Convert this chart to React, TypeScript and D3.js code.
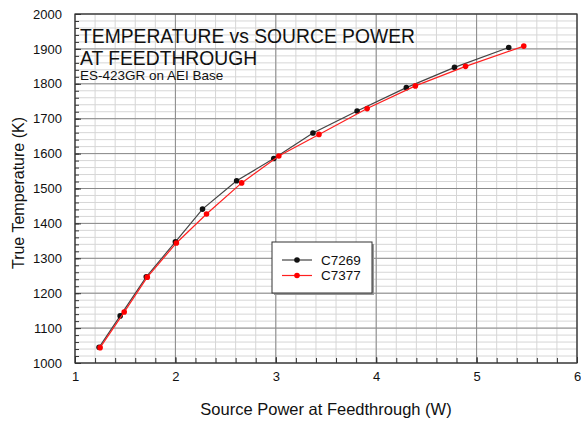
import { useEffect, useRef } from "react";
import * as d3 from "d3";

// C7269 and C7377 source power (W) vs true temperature (K)
const c7269Power = [1.24, 1.45, 1.71, 2.0, 2.27, 2.61, 2.98, 3.37, 3.81, 4.3, 4.78, 5.32];
const c7269Temp = [1045, 1135, 1247, 1347, 1441, 1522, 1586, 1659, 1722, 1789, 1847, 1904];
const c7377Power = [1.25, 1.49, 1.72, 2.01, 2.31, 2.66, 3.03, 3.43, 3.91, 4.39, 4.89, 5.47];
const c7377Temp = [1044, 1146, 1246, 1344, 1427, 1516, 1593, 1655, 1729, 1794, 1850, 1908];

const xTicks = [1, 2, 3, 4, 5, 6];
const yTicks = [1000, 1100, 1200, 1300, 1400, 1500, 1600, 1700, 1800, 1900, 2000];

const seriesNames = ["C7269", "C7377"];
const seriesColors = ["#111111", "#ff0000"];
const lineColors = ["#444444", "#ff2020"];

const FONT = "'Liberation Sans', Arial, sans-serif";

export default function App() {
  const svgRef = useRef<SVGSVGElement | null>(null);

  useEffect(() => {
    const svgEl = svgRef.current;
    if (!svgEl) return;

    const width = 581;
    const height = 421;
    const margin = { top: 14, right: 4, bottom: 58, left: 75 };
    const innerW = width - margin.left - margin.right;
    const innerH = height - margin.top - margin.bottom;

    const svg = d3.select(svgEl);
    svg.selectAll("*").remove();
    svg.attr("width", width).attr("height", height);

    svg.append("rect").attr("width", width).attr("height", height).attr("fill", "#fff");

    const x = d3.scaleLinear().domain([1, 6]).range([0, innerW]);
    const y = d3.scaleLinear().domain([1000, 2000]).range([innerH, 0]);

    const g = svg.append("g").attr("transform", `translate(${margin.left},${margin.top})`);

    const xMinor = d3.range(1, 6.001, 0.2);
    const yMinor = d3.range(1000, 2000.1, 20);

    // minor grid
    g.append("g")
      .selectAll("line")
      .data(xMinor)
      .enter()
      .append("line")
      .attr("x1", (d) => x(d))
      .attr("x2", (d) => x(d))
      .attr("y1", 0)
      .attr("y2", innerH)
      .attr("stroke", "#d6d6d6")
      .attr("stroke-width", 1);
    g.append("g")
      .selectAll("line")
      .data(yMinor)
      .enter()
      .append("line")
      .attr("x1", 0)
      .attr("x2", innerW)
      .attr("y1", (d) => y(d))
      .attr("y2", (d) => y(d))
      .attr("stroke", "#d6d6d6")
      .attr("stroke-width", 1);

    // major grid
    g.append("g")
      .selectAll("line")
      .data(xTicks)
      .enter()
      .append("line")
      .attr("x1", (d) => x(d))
      .attr("x2", (d) => x(d))
      .attr("y1", 0)
      .attr("y2", innerH)
      .attr("stroke", "#8a8a8a")
      .attr("stroke-width", 1);
    g.append("g")
      .selectAll("line")
      .data(yTicks)
      .enter()
      .append("line")
      .attr("x1", 0)
      .attr("x2", innerW)
      .attr("y1", (d) => y(d))
      .attr("y2", (d) => y(d))
      .attr("stroke", "#8a8a8a")
      .attr("stroke-width", 1);

    // axes with inward ticks
    const xAxis = g
      .append("g")
      .attr("transform", `translate(0,${innerH})`)
      .call(d3.axisBottom(x).tickValues(xMinor).tickSize(-5).tickFormat(() => ""));
    xAxis.selectAll(".domain").remove();
    xAxis.selectAll(".tick line").attr("stroke", "#333");

    const xLabels = g
      .append("g")
      .attr("transform", `translate(0,${innerH})`)
      .call(d3.axisBottom(x).tickValues(xTicks).tickSize(-6).tickPadding(9).tickFormat(d3.format("d")));
    xLabels.selectAll(".domain").remove();
    xLabels.selectAll(".tick line").attr("stroke", "#333");
    xLabels.selectAll("text").attr("font-size", 13).attr("font-family", FONT).attr("fill", "#111");

    const yAxis = g
      .append("g")
      .call(d3.axisLeft(y).tickValues(yMinor).tickSize(-4).tickFormat(() => ""));
    yAxis.selectAll(".domain").remove();
    yAxis.selectAll(".tick line").attr("stroke", "#333");

    const yLabels = g
      .append("g")
      .call(d3.axisLeft(y).tickValues(yTicks).tickSize(-6).tickPadding(13).tickFormat(d3.format("d")));
    yLabels.selectAll(".domain").remove();
    yLabels.selectAll(".tick line").attr("stroke", "#333");
    yLabels.selectAll("text").attr("font-size", 13).attr("font-family", FONT).attr("fill", "#111");

    // frame
    g.append("rect")
      .attr("x", 0)
      .attr("y", 0)
      .attr("width", innerW)
      .attr("height", innerH)
      .attr("fill", "none")
      .attr("stroke", "#333")
      .attr("stroke-width", 1.2);

    // title block
    const title = g.append("g").attr("font-family", FONT).attr("fill", "#111");
    title.append("text").attr("x", 5).attr("y", 29).attr("font-size", 19.3).text("TEMPERATURE vs SOURCE POWER");
    title.append("text").attr("x", 5).attr("y", 51).attr("font-size", 19.3).text("AT FEEDTHROUGH");
    title.append("text").attr("x", 5).attr("y", 66).attr("font-size", 13.5).text("ES-423GR on AEI Base");

    // series
    const series = [
      c7269Power.map((p, i) => ({ p, t: c7269Temp[i] })),
      c7377Power.map((p, i) => ({ p, t: c7377Temp[i] })),
    ];
    const line = d3
      .line<{ p: number; t: number }>()
      .x((d) => x(d.p))
      .y((d) => y(d.t));

    series.forEach((pts, si) => {
      g.append("path")
        .datum(pts)
        .attr("fill", "none")
        .attr("stroke", lineColors[si])
        .attr("stroke-width", 1.2)
        .attr("d", line as any);
      g.append("g")
        .selectAll("circle")
        .data(pts)
        .enter()
        .append("circle")
        .attr("cx", (d) => x(d.p))
        .attr("cy", (d) => y(d.t))
        .attr("r", 2.8)
        .attr("fill", seriesColors[si]);
    });

    // legend
    const lg = svg.append("g").attr("transform", "translate(272,242)");
    lg.append("rect").attr("x", 2).attr("y", 2).attr("width", 100).attr("height", 51).attr("fill", "#999");
    lg.append("rect")
      .attr("width", 100)
      .attr("height", 51)
      .attr("fill", "#fff")
      .attr("stroke", "#333")
      .attr("stroke-width", 1);
    seriesNames.forEach((name, i) => {
      const ly = 18 + i * 15.5;
      lg.append("line")
        .attr("x1", 10)
        .attr("x2", 40)
        .attr("y1", ly)
        .attr("y2", ly)
        .attr("stroke", lineColors[i])
        .attr("stroke-width", 1.2);
      lg.append("circle").attr("cx", 25).attr("cy", ly).attr("r", 2.8).attr("fill", seriesColors[i]);
      lg.append("text")
        .attr("x", 49)
        .attr("y", ly + 4.5)
        .attr("font-size", 13.5)
        .attr("font-family", FONT)
        .attr("fill", "#111")
        .text(name);
    });

    // axis titles
    svg.append("text")
      .attr("x", margin.left + innerW / 2)
      .attr("y", 415)
      .attr("text-anchor", "middle")
      .attr("font-size", 16.5)
      .attr("font-family", FONT)
      .attr("fill", "#111")
      .text("Source Power at Feedthrough (W)");

    svg.append("text")
      .attr("transform", `translate(24,193) rotate(-90)`)
      .attr("text-anchor", "middle")
      .attr("font-size", 16)
      .attr("font-family", FONT)
      .attr("fill", "#111")
      .text("True Temperature (K)");
  }, []);

  return (
    <div style={{ position: "absolute", left: 0, top: 0 }}>
      <svg ref={svgRef} role="img" aria-label="Temperature vs source power" />
    </div>
  );
}
